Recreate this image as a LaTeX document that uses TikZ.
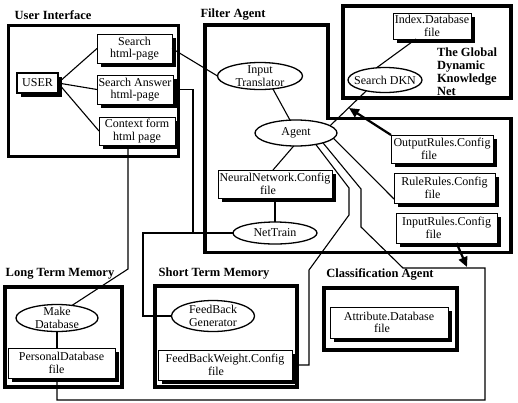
\documentclass[tikz,border=0pt]{standalone}
\usepackage{fontspec}
\setmainfont{Liberation Serif}
\usetikzlibrary{shapes.geometric,arrows.meta}
\pgfdeclarelayer{bg}
\pgfsetlayers{bg,main}
\newcommand{\fileline}[1]{file\hspace*{#1}}
\begin{document}
\begin{tikzpicture}[x=1pt,y=-1pt,
  every node/.style={inner sep=0pt, outer sep=0pt},
  txt/.style={font=\fontsize{12}{12.5}\selectfont, align=center},
  head/.style={font=\fontsize{12.5}{13}\selectfont\bfseries, align=left},
  group/.style={draw, line width=3.5pt, rectangle},
  filebox/.style={txt, draw, fill=white, line width=1pt, rectangle},
  shadowfill/.style={fill=black},
  oval/.style={draw, fill=white, ellipse, line width=1.3pt},
  conn/.style={line width=1.1pt},
  bigarrow/.style={line width=2.2pt, -{Triangle[length=10pt,width=9pt]}},
]
\useasboundingbox (0,0) rectangle (518,402);

% headings
\node[head] (hui) at (53,15) {User Interface};
\node[head] (hfa) at (233,15) {Filter Agent};
\node[head] (hlt) at (60,274) {Long Term Memory};
\node[head] (hst) at (214,274) {Short Term Memory};
\node[head] (hca) at (380,274) {Classification Agent};
\node[head, anchor=north west] (hgd) at (437,48) {The Global\\Dynamic\\Knowledge\\Net};

% group boxes
\node[group, minimum width=170pt, minimum height=131pt] (uibox) at (93.5,91) {};
\node[group, minimum width=168pt, minimum height=92pt] (dknbox) at (427,52) {};
\node[group, minimum width=117pt, minimum height=100pt] (ltbox) at (63.5,337) {};
\node[group, minimum width=142pt, minimum height=101pt] (stbox) at (226,336.5) {};
\node[group, minimum width=133pt, minimum height=62pt] (cabox) at (390.5,319) {};
\draw[line width=3.5pt] (205,25) -- (328,25) -- (328,118.5) -- (511,118.5) -- (511,252.5) -- (205,252.5) -- cycle;

% user interface
\node[txt, draw, fill=white, line width=2.5pt, minimum width=41pt, minimum height=20pt] (user) at (37.5,83) {USER};
\node[filebox, minimum width=75pt, minimum height=29pt] (search) at (134.5,48.5) {Search\\html-page};
\node[filebox, minimum width=76pt, minimum height=29pt] (answer) at (135,89.5) {Search Answer\\html-page};
\node[filebox, minimum width=76pt, minimum height=28pt] (context) at (137,131) {Context form\\html page};

% global DKN
\node[filebox, minimum width=78pt, minimum height=26pt] (idx) at (432,26) {Index.Database\\file};
\node[oval, minimum width=74pt, minimum height=25pt, label={[txt]center:Search DKN}] (dkn) at (385,80) {};

% filter agent
\node[oval, minimum width=85pt, minimum height=27pt, label={[txt]center:{Input\\Translator}}] (intrans) at (260,76) {};
\node[oval, minimum width=82pt, minimum height=26pt, label={[txt]center:Agent}] (agent) at (296,133) {};
\node[filebox, minimum width=102pt, minimum height=28pt] (out) at (442,149) {OutputRules.Config\\\fileline{26pt}};
\node[filebox, minimum width=101pt, minimum height=30pt] (rule) at (444.5,188) {RuleRules.Config\\\fileline{24pt}};
\node[filebox, minimum width=101pt, minimum height=30pt] (inr) at (446.5,228) {InputRules.Config\\\fileline{26pt}};
\node[filebox, minimum width=114pt, minimum height=28pt] (nn) at (275,184) {NeuralNetwork.Config\\\fileline{14pt}};
\node[oval, minimum width=84pt, minimum height=22pt, label={[txt]center:NetTrain}] (nettrain) at (275,233) {};

% classification
\node[filebox, minimum width=118pt, minimum height=31pt] (attr) at (389,322.5) {Attribute.Database\\\fileline{14pt}};

% long term memory
\node[oval, minimum width=82pt, minimum height=27pt, label={[txt]center:{Make\\Database}}] (makedb) at (57,318) {};
\node[filebox, minimum width=107pt, minimum height=30pt] (pdb) at (61.5,363) {PersonalDatabase\\\fileline{10pt}};

% short term memory
\node[oval, minimum width=83pt, minimum height=31pt, label={[txt]center:{FeedBack\\Generator}}] (fbg) at (213,316) {};
\node[filebox, minimum width=134pt, minimum height=30pt] (fbw) at (225,365) {FeedBackWeight.Config\\\fileline{18pt}};

% shadows and background
\begin{pgfonlayer}{bg}
  \fill[white] (0,0) rectangle (518,402);
  \foreach \n in {user,search,answer,context,idx,out,rule,inr,nn,attr,pdb,fbw}{
    \fill[shadowfill] ([shift={(3.5pt,-3.5pt)}]\n.north west) rectangle ([shift={(3.5pt,-3.5pt)}]\n.south east);
  }
\end{pgfonlayer}

% free ends
\coordinate (outtip) at (349,108);
\coordinate (intip) at (467,267);
\coordinate (j1) at (193,233);

% connectors
\draw[conn] (user.east) -- (search.west);
\draw[conn] (user.east) -- (answer.west);
\draw[conn] (user.east) -- (context.west);
\draw[conn] (search.east) -- (intrans.west);
\draw[conn] (answer.east) -| (j1);
\draw[conn] (nettrain.west) -- (143,233) |- (fbg.west);
\draw[conn] ([xshift=-9pt]context.south) -- ++(0,124) -- (makedb.40);
\draw[conn] (makedb.south) -- (makedb.south |- pdb.north);
\draw[conn] (intrans.-45) -- (agent.115);
\draw[conn] (agent.12) -- (dkn.-150);
\draw[conn] ([xshift=-16pt]idx.south) -- (dkn.125);
\draw[conn] (agent.-100) -- ([xshift=-2pt]nn.north);
\draw[conn] (nn.south) -- (nettrain.north);
\draw[conn] (agent.-8) -- ([yshift=4pt]rule.south west);
\draw[conn] (agent.-30) -- (349,188) -- (349,215) -- (309,270) |- (fbw.east);
\draw[conn] (agent.-20) -- (361,189) -- (361,227) -- (403,268) -- (485,268) -- (485,400) -| (makedb.south |- pdb.south);
\draw[bigarrow] (out.north west) -- (outtip);
\draw[bigarrow] ([xshift=10pt]inr.south) -- (intip);
\end{tikzpicture}
\end{document}
